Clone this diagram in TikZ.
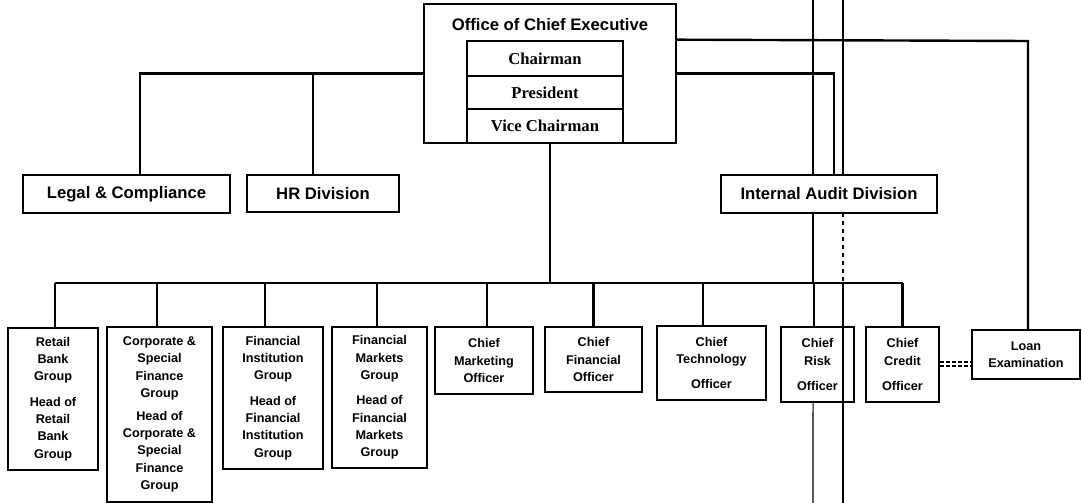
\documentclass[tikz,border=0pt]{standalone}
\usepackage{fontspec}
\setmainfont{Liberation Serif}
\newfontfamily\arialf{Liberation Sans}
\usetikzlibrary{calc}
\tikzset{
  sz/.style 2 args={minimum width=#1*0.75pt, minimum height=#2*0.75pt},
  box/.style={draw, line width=1.5pt, inner sep=0pt, align=center,
    font=\arialf\bfseries\fontsize{9.5}{13}\selectfont},
  bigbox/.style={box, font=\arialf\bfseries\fontsize{12.5}{15}\selectfont},
  rowbox/.style={draw, line width=2pt, inner sep=0pt, align=center,
    font=\rmfamily\bfseries\fontsize{12.5}{15}\selectfont},
  conn/.style={line width=1.8pt},
  scanline/.style={line width=0.9pt}
}
\begin{document}
\begin{tikzpicture}[x=0.75pt,y=-0.75pt]
\useasboundingbox (0,0) rectangle (1082,503);
% top block
\node[box, sz={252}{139},
  label={[anchor=north, yshift=-8pt, font=\arialf\bfseries\fontsize{12.5}{15}\selectfont]north:Office of Chief Executive}] (ceo) at (550,73.5) {};
\node[rowbox, sz={156}{35}] (chair) at (545,58.5) {Chairman};
\node[rowbox, sz={156}{33}] (pres) at (545,92.5) {President};
\node[rowbox, sz={156}{34}] (vice) at (545,126) {Vice Chairman};
% second level
\node[bigbox, sz={207}{38}] (legal) at (126.5,194) {Legal \& Compliance};
\node[bigbox, sz={152}{37}] (hr) at (323,193.5) {HR Division};
\node[bigbox, sz={216}{38}] (audit) at (829,194) {Internal Audit Division};
% bottom row
\node[box, sz={90}{142}] (retail) at (53,399) {Retail\\Bank\\Group\\[6pt]Head of\\Retail\\Bank\\Group};
\node[box, sz={105}{175}] (corp) at (159.5,414.5) {Corporate \&\\Special\\Finance\\Group\\[4pt]Head of\\Corporate \&\\Special\\Finance\\Group};
\node[box, sz={100}{142}] (fi) at (273,398) {Financial\\Institution\\Group\\[6pt]Head of\\Financial\\Institution\\Group};
\node[box, sz={95}{141}] (fm) at (379.5,397.5) {Financial\\Markets\\Group\\[6pt]Head of\\Financial\\Markets\\Group};
\node[box, sz={98}{67}] (cmo) at (484,360.5) {Chief\\Marketing\\Officer};
\node[box, sz={97}{65}] (cfo) at (593.5,359.5) {Chief\\Financial\\Officer};
\node[box, sz={109}{74}] (cto) at (711.5,363) {Chief\\Technology\\[6pt]Officer};
\node[box, sz={73}{75}] (cro) at (817.5,364.5) {Chief\\Risk\\[6pt]Officer};
\node[box, sz={73}{75}] (cco) at (902.5,364.5) {Chief\\Credit\\[6pt]Officer};
\node[box, sz={108}{49}] (loan) at (1026,354.5) {Loan\\Examination};
% connector junctions
\coordinate (lj) at (140,73.5);
\coordinate (hj) at (313,73.5);
\coordinate (aj) at (834,73.5);
\coordinate (tj) at (1028,41);
\coordinate (busL) at (55,283);
\coordinate (busR) at (903,283);
% upper connectors
\draw[conn] (ceo.west) -- (lj) -- (lj |- legal.north);
\draw[conn] (hj) -- (hj |- hr.north);
\draw[conn] (ceo.east) -- (aj) -- (aj |- audit.north);
\draw[conn] (ceo.east |- chair.north) -- (tj) -- (tj |- loan.north);
\draw[conn] (ceo.south) -- (ceo.south |- busL);
% bus
\draw[conn] (busL) -- (busR);
\draw[conn] ([xshift=1.5pt]retail.north) -- ([xshift=1.5pt]retail.north |- busL);
\draw[conn] ([xshift=-1.9pt]corp.north) -- ([xshift=-1.9pt]corp.north |- busL);
\draw[conn] ([xshift=-6pt]fi.north) -- ([xshift=-6pt]fi.north |- busL);
\draw[conn] ([xshift=-1.9pt]fm.north) -- ([xshift=-1.9pt]fm.north |- busL);
\draw[conn] ([xshift=2.2pt]cmo.north) -- ([xshift=2.2pt]cmo.north |- busL);
\draw[conn] (cfo.north) -- (cfo.north |- busL);
\draw[conn] ([xshift=-6.4pt]cto.north) -- ([xshift=-6.4pt]cto.north |- busL);
\draw[conn] ([xshift=-2.6pt]cro.north) -- ([xshift=-2.6pt]cro.north |- busL);
\draw[conn] (cco.north) -- (cco.north |- busL);
\draw[conn] ([xshift=-12pt]audit.south) -- ([xshift=-12pt]audit.south |- busL);
% dashed link credit - loan
\draw[line width=1pt, dash pattern=on 3pt off 1.5pt] ([yshift=2pt]cco.east) -- ([yshift=2pt]cco.east -| loan.west);
\draw[line width=1pt, dash pattern=on 3pt off 1.5pt] ([yshift=-1pt]cco.east) -- ([yshift=-1pt]cco.east -| loan.west);
% scan lines
\draw[scanline] (813,0) -- ([xshift=-12pt]audit.north);
\draw[scanline] ([xshift=-3.3pt]cro.south) -- (813,503);
\draw[line width=1.2pt] (843,0) -- (843,175);
\draw[line width=1pt, dashed] (843,213) -- (843,283);
\draw[line width=1.2pt] (843,283) -- (843,503);
\end{tikzpicture}
\end{document}
